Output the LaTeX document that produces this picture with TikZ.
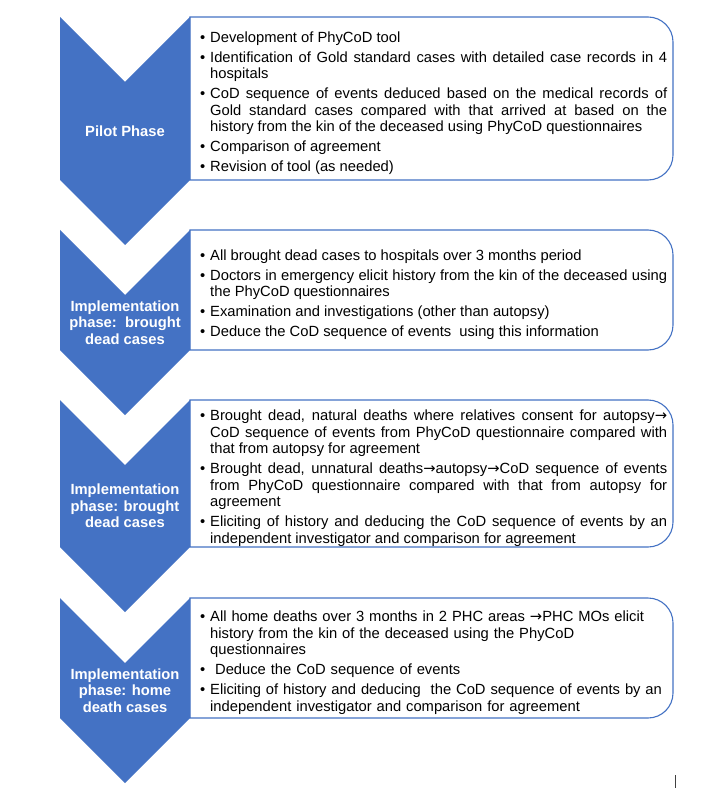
\documentclass[tikz,border=0pt]{standalone}
\usepackage{fontspec}
\setmainfont{Liberation Sans}
\newfontfamily\arrowfont{DejaVu Sans}

\definecolor{phaseblue}{HTML}{4472C4}
\definecolor{cursorgrey}{HTML}{404040}

% one bullet point with hanging indent
\newcommand\bitem{\par\hangindent=10pt\hangafter=1\noindent\makebox[10pt][l]{\textbullet}}
% the arrow used inside the texts
\newcommand\arr{{\arrowfont →}}

\begin{document}
\begin{tikzpicture}[%
    x=1pt, y=-1pt,             % pixel units of the original, y grows downwards
    ]
% -------------------------------------------------
% A few styles
\tikzset{
  chev/.style={fill=phaseblue},
  panel/.style={draw=phaseblue, fill=white, line width=1.1pt},
  lab/.style={text=white, align=center, inner sep=0pt,
    font={\bfseries\fontsize{14.75pt}{16.5pt}\selectfont}},
  % text of the boxes, justified or ragged
  bullets/.style={anchor=west, inner sep=0pt, text width=467pt, align=justify,
    font={\fontsize{14.75pt}{16.5pt}\selectfont},
    execute at begin node={\setlength{\parskip}{3.5pt}\hyphenpenalty=10000\tolerance=10000}},
  bulletsleft/.style={bullets, align=left}
}
\useasboundingbox (0,0) rectangle (716,799);
% -------------------------------------------------
% The boxes, rounded on the right side
\draw[panel] (190,17) -- (648,17) arc[start angle=-90, end angle=0, radius=25]
  -- (673,155) arc[start angle=0, end angle=90, radius=25] -- (190,180) -- cycle;
\draw[panel] (190,230) -- (648,230) arc[start angle=-90, end angle=0, radius=25]
  -- (673,325) arc[start angle=0, end angle=90, radius=25] -- (190,350) -- cycle;
\draw[panel] (190,400) -- (648,400) arc[start angle=-90, end angle=0, radius=25]
  -- (673,522) arc[start angle=0, end angle=90, radius=25] -- (190,547) -- cycle;
\draw[panel] (190,598) -- (648,598) arc[start angle=-90, end angle=0, radius=25]
  -- (673,693) arc[start angle=0, end angle=90, radius=25] -- (190,718) -- cycle;

% The chevrons
\fill[chev] (60,17) -- (125,82) -- (190,17) -- (190,180) -- (125,245) -- (60,180) -- cycle;
\fill[chev] (60,230) -- (125,295) -- (190,230) -- (190,350) -- (125,415) -- (60,350) -- cycle;
\fill[chev] (60,400) -- (125,465) -- (190,400) -- (190,547) -- (125,612) -- (60,547) -- cycle;
\fill[chev] (60,598) -- (125,663) -- (190,598) -- (190,718) -- (125,783) -- (60,718) -- cycle;

% -------------------------------------------------
% Phase labels
\node[lab] (pilot) at (125,131) {Pilot Phase};
\node[lab] (brought) at (125,322.5) {Implementation\\phase:\ \ brought\\dead cases};
\node[lab] (autopsy) at (125,506) {Implementation\\phase: brought\\dead cases};
\node[lab] (home) at (125,690.5) {Implementation\\phase: home\\death cases};

% Box texts
\node[bullets] (pilotlist) at (200,98.5) {%
  \bitem Development of PhyCoD tool
  \bitem Identification of Gold standard cases with detailed case records in 4\linebreak
    hospitals
  \bitem CoD sequence of events deduced based on the medical records of\linebreak
    Gold standard cases compared with that arrived at based on the\linebreak
    history from the kin of the deceased using PhyCoD questionnaires
  \bitem Comparison of agreement
  \bitem Revision of tool (as needed)\par};
\node[bullets] (broughtlist) at (200,290) {%
  \bitem All brought dead cases to hospitals over 3 months period
  \bitem Doctors in emergency elicit history from the kin of the deceased using\linebreak
    the PhyCoD questionnaires
  \bitem Examination and investigations (other than autopsy)
  \bitem Deduce the CoD sequence of events\ \ using this information\par};
\node[bullets] (autopsylist) at (200,473.5) {%
  \bitem Brought dead, natural deaths where relatives consent for autopsy\arr\linebreak
    CoD sequence of events from PhyCoD questionnaire compared with\linebreak
    that from autopsy for agreement
  \bitem Brought dead, unnatural deaths\arr autopsy\arr CoD sequence of events\linebreak
    from PhyCoD questionnaire compared with that from autopsy for\linebreak
    agreement
  \bitem Eliciting of history and deducing the CoD sequence of events by an\linebreak
    independent investigator and comparison for agreement\par};
\node[bulletsleft] (homelist) at (200,658) {%
  \bitem All home deaths over 3 months in 2 PHC areas \arr PHC MOs elicit\newline
    history from the kin of the deceased using the PhyCoD\newline
    questionnaires
  \bitem \ Deduce the CoD sequence of events
  \bitem Eliciting of history and deducing\ \ the CoD sequence of events by an\newline
    independent investigator and comparison for agreement\par};

% stray mark near the bottom
\draw[cursorgrey, line width=1pt] (675,775) -- (675,788);
% -------------------------------------------------
\end{tikzpicture}
\end{document}
